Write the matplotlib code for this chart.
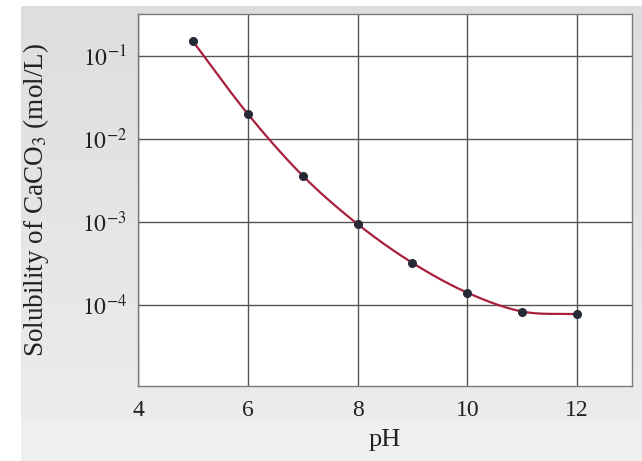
import numpy as np
import matplotlib
matplotlib.use('Agg')
import matplotlib.pyplot as plt
from matplotlib.ticker import NullLocator

plt.rcParams['font.family'] = ['Liberation Serif', 'DejaVu Serif']
plt.rcParams['mathtext.fontset'] = 'stix'

# data
ph = [5, 6, 7, 8, 9, 10, 11, 12]
solubility = [0.15, 0.020, 0.0036, 9.4e-4, 3.2e-4, 1.4e-4, 8.3e-5, 7.7e-5]
xticks = [4, 6, 8, 10, 12]
yticks = [1e-1, 1e-2, 1e-3, 1e-4]
ytick_labels = ['$10^{-1}$', '$10^{-2}$', '$10^{-3}$', '$10^{-4}$']


def smooth_curve(x, y, n=30):
    """Catmull-Rom spline through the points, done in log space."""
    x = np.asarray(x, float)
    ly = np.log10(y)
    px = np.concatenate([[2 * x[0] - x[1]], x, [2 * x[-1] - x[-2]]])
    py = np.concatenate([[2 * ly[0] - ly[1]], ly, [2 * ly[-1] - ly[-2]]])
    xs, ys = [], []
    t = np.linspace(0, 1, n)
    for i in range(1, len(px) - 2):
        for p, out in ((px, xs), (py, ys)):
            p0, p1, p2, p3 = p[i - 1], p[i], p[i + 1], p[i + 2]
            seg = 0.5 * (2 * p1 + (-p0 + p2) * t
                         + (2 * p0 - 5 * p1 + 4 * p2 - p3) * t ** 2
                         + (-p0 + 3 * p1 - 3 * p2 + p3) * t ** 3)
            out.extend(seg)
    return np.array(xs), 10 ** np.array(ys)


fig = plt.figure(figsize=(6.42, 4.61), dpi=100, facecolor='white')

# gray page background
bg = fig.add_axes([21 / 642, 0, 1 - 21 / 642, 1 - 6 / 461])
grad = np.linspace(0.87, 0.93, 100)[:, None]
bg.imshow(np.repeat(grad[:, :, None], 3, axis=2), aspect='auto',
          extent=[0, 1, 0, 1], origin='upper', vmin=0, vmax=1)
bg.axhspan(0, 39 / 455, color='#efefef', lw=0)
bg.set_xlim(0, 1)
bg.set_ylim(0, 1)
bg.axis('off')

ax = fig.add_axes([138 / 642, 1 - 386 / 461, (632 - 138) / 642, (386 - 14) / 461])
ax.set_facecolor('white')
ax.set_yscale('log')
ax.set_xlim(4, 13)
ax.set_ylim(1.05e-5, 0.32)

cx, cy = smooth_curve(ph, solubility)
ax.plot(cx, cy, color='#a8203c', lw=1.6, zorder=3)
ax.plot(ph, solubility, 'o', color='#262a36', ms=5.5, zorder=4)

ax.set_xticks(xticks)
ax.set_yticks(yticks)
ax.set_yticklabels(ytick_labels)
ax.yaxis.set_minor_locator(NullLocator())
ax.grid(True, color='#555555', lw=1.0)
ax.set_axisbelow(True)
ax.tick_params(length=0, labelsize=17, colors='#222222')
ax.tick_params(axis='x', pad=10)
ax.tick_params(axis='y', pad=8)
for s in ax.spines.values():
    s.set_color('#7a7a7a')
    s.set_linewidth(1.0)

ax.set_xlabel('pH', fontsize=19, color='#222222', labelpad=6)
ax.set_ylabel('Solubility of CaCO$_3$ (mol/L)', fontsize=19.5, color='#222222', labelpad=22)

fig.savefig('out.png', dpi=100)
